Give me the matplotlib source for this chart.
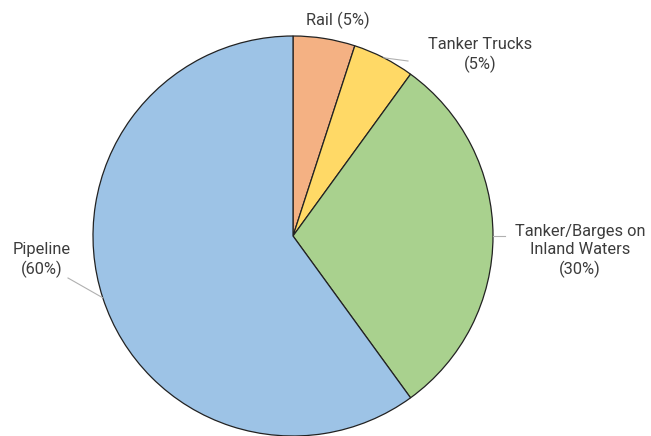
import numpy as np
import matplotlib.pyplot as plt

labels = ['Rail (5%)', 'Tanker Trucks\n(5%)', 'Tanker/Barges on\nInland Waters\n(30%)', 'Pipeline\n(60%)']
shares = [5, 5, 30, 60]
colors = ['#F4B183', '#FFD966', '#A9D18E', '#9DC3E6']

fig = plt.figure(figsize=(6.51, 4.36), dpi=100)
ax = fig.add_axes([93 / 651, 0, 400 / 651, 400 / 436])

wedges, _ = ax.pie(shares, colors=colors, startangle=90, counterclock=False,
                   wedgeprops=dict(edgecolor='#222222', linewidth=0.9))
ax.set_xlim(-1, 1)
ax.set_ylim(-1, 1)

# label positions (text, leader line end)
text_pos = [(0.225, 1.08), (0.935, 0.905), (1.435, -0.075), (-1.255, -0.12)]
line_end = [None, (0.575, 0.875), (1.06, 0.0), (-1.125, -0.21)]

for w, lab, tp, le in zip(wedges, labels, text_pos, line_end):
    ang = np.deg2rad((w.theta1 + w.theta2) / 2)
    x, y = np.cos(ang), np.sin(ang)
    ax.text(tp[0], tp[1], lab, ha='center', va='center', fontsize=11.8,
            color='#3c3c3c', family='Roboto', linespacing=1.25)
    if le is not None:
        ax.plot([x, le[0]], [y, le[1]], color='#b0b0b0', lw=0.8, clip_on=False)

plt.savefig('out.png', dpi=100)
